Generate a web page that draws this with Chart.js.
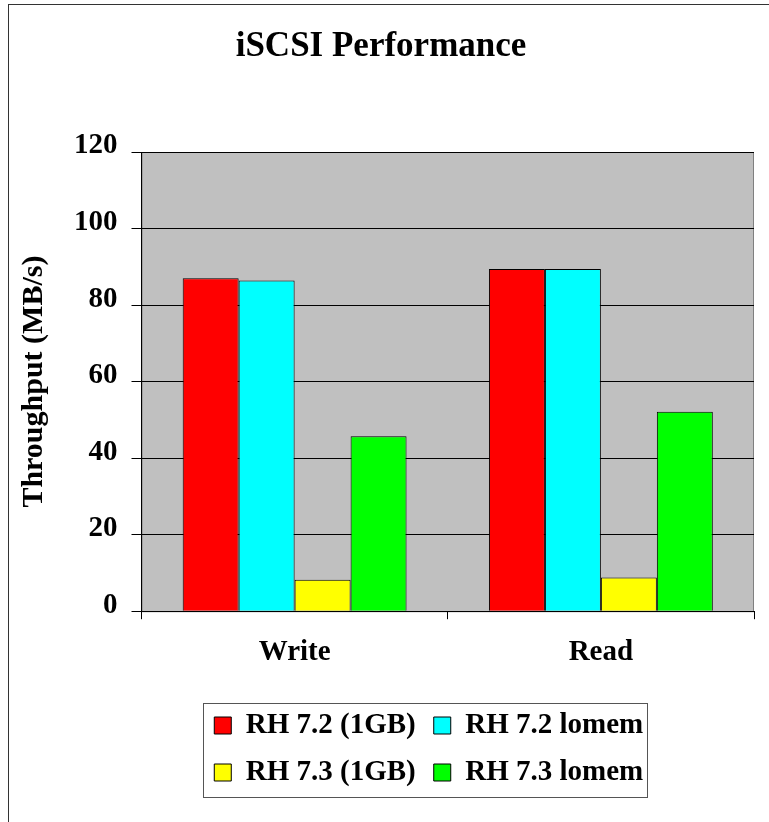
<!DOCTYPE html>
<html lang="en">
<head>
    <meta charset="UTF-8">
    <title>iSCSI Performance</title>
    <script src="https://cdn.jsdelivr.net/npm/chart.js"></script>
    <style>
        html, body { margin: 0; padding: 0; background: #fff; }
        canvas { display: block; }
    </style>
</head>
<body>
    <canvas id="grafico" width="769" height="822"></canvas>

    <script>
        // data
        const categories = ['Write', 'Read'];
        const rh72_1gb   = [87.0, 89.4];
        const rh72_lomem = [86.4, 89.4];
        const rh73_1gb   = [8.2, 8.8];
        const rh73_lomem = [45.7, 52.1];
        const yTicks = [0, 20, 40, 60, 80, 100, 120];

        const serif = "'Liberation Serif', 'Times New Roman', serif";
        const font = { family: serif, size: 29, weight: 'bold' };

        // gray plot area + outer frame
        const fondo = {
            id: 'fondo',
            beforeDraw(chart) {
                const { ctx, chartArea: a } = chart;
                ctx.save();
                ctx.fillStyle = '#fff';
                ctx.fillRect(0, 0, chart.width, chart.height);
                ctx.strokeStyle = '#333';
                ctx.lineWidth = 1;
                ctx.strokeRect(8.5, 4.5, chart.width + 20, chart.height + 20);
                ctx.fillStyle = '#c0c0c0';
                ctx.fillRect(a.left, a.top, a.right - a.left, a.bottom - a.top);
                ctx.strokeStyle = '#808080';
                ctx.strokeRect(a.left + 0.5, a.top + 0.5, a.right - a.left - 1, a.bottom - a.top);
                ctx.restore();
            }
        };

        // move the legend a bit left and put a box round it
        const marcoLeyenda = {
            id: 'marcoLeyenda',
            afterLayout(chart) {
                chart.legend.left -= 19;
                chart.legend.right -= 19;
            },
            afterDraw(chart) {
                const boxes = chart.legend.legendHitBoxes;
                const left = Math.min(...boxes.map(b => b.left)) - 11;
                const right = Math.max(...boxes.map(b => b.left + b.width)) + 4;
                const top = Math.min(...boxes.map(b => b.top)) - 8;
                const bottom = Math.max(...boxes.map(b => b.top + b.height)) + 10;
                const ctx = chart.ctx;
                ctx.save();
                ctx.strokeStyle = '#555';
                ctx.lineWidth = 1;
                ctx.strokeRect(Math.round(left) + 0.5, Math.round(top) + 0.5, Math.round(right - left), Math.round(bottom - top));
                ctx.restore();
            }
        };

        const serie = (label, data, color) => ({
            label, data,
            backgroundColor: color,
            borderColor: '#000',
            borderWidth: 1,
            categoryPercentage: 0.731,
            barPercentage: 1
        });

        new Chart(document.getElementById('grafico'), {
            type: 'bar',
            data: {
                labels: categories,
                datasets: [
                    serie('RH 7.2 (1GB)', rh72_1gb, '#ff0000'),
                    serie('RH 7.2 lomem', rh72_lomem, '#00ffff'),
                    serie('RH 7.3 (1GB)', rh73_1gb, '#ffff00'),
                    serie('RH 7.3 lomem', rh73_lomem, '#00ff00')
                ]
            },
            options: {
                responsive: false,
                animation: false,
                layout: { padding: { top: 0, left: 8, right: 15, bottom: 25 } },
                plugins: {
                    title: {
                        display: true,
                        text: 'iSCSI Performance',
                        color: '#000',
                        font: { family: serif, size: 35, weight: 'bold' },
                        padding: { top: 26, bottom: 84 }
                    },
                    legend: {
                        position: 'bottom',
                        fullSize: false,
                        labels: {
                            color: '#000',
                            font: font,
                            boxWidth: 17,
                            boxHeight: 17,
                            padding: 18
                        }
                    },
                    tooltip: { enabled: false }
                },
                scales: {
                    x: {
                        grid: { drawOnChartArea: false, tickLength: 8, color: '#000' },
                        border: { color: '#000' },
                        ticks: { color: '#000', font: font, padding: 16 },
                        afterFit(scale) { scale.height += 7; }
                    },
                    y: {
                        min: yTicks[0],
                        max: yTicks[yTicks.length - 1],
                        afterBuildTicks(scale) { scale.ticks = yTicks.map(v => ({ value: v })); },
                        grid: { color: '#000', tickLength: 10 },
                        border: { color: '#000' },
                        ticks: { color: '#000', font: font, padding: 14, labelOffset: -6 },
                        title: {
                            display: true,
                            text: 'Throughput (MB/s)',
                            color: '#000',
                            font: { family: serif, size: 30, weight: 'bold' },
                            padding: { top: 8, bottom: 8 }
                        }
                    }
                }
            },
            plugins: [fondo, marcoLeyenda]
        });
    </script>
</body>
</html>
